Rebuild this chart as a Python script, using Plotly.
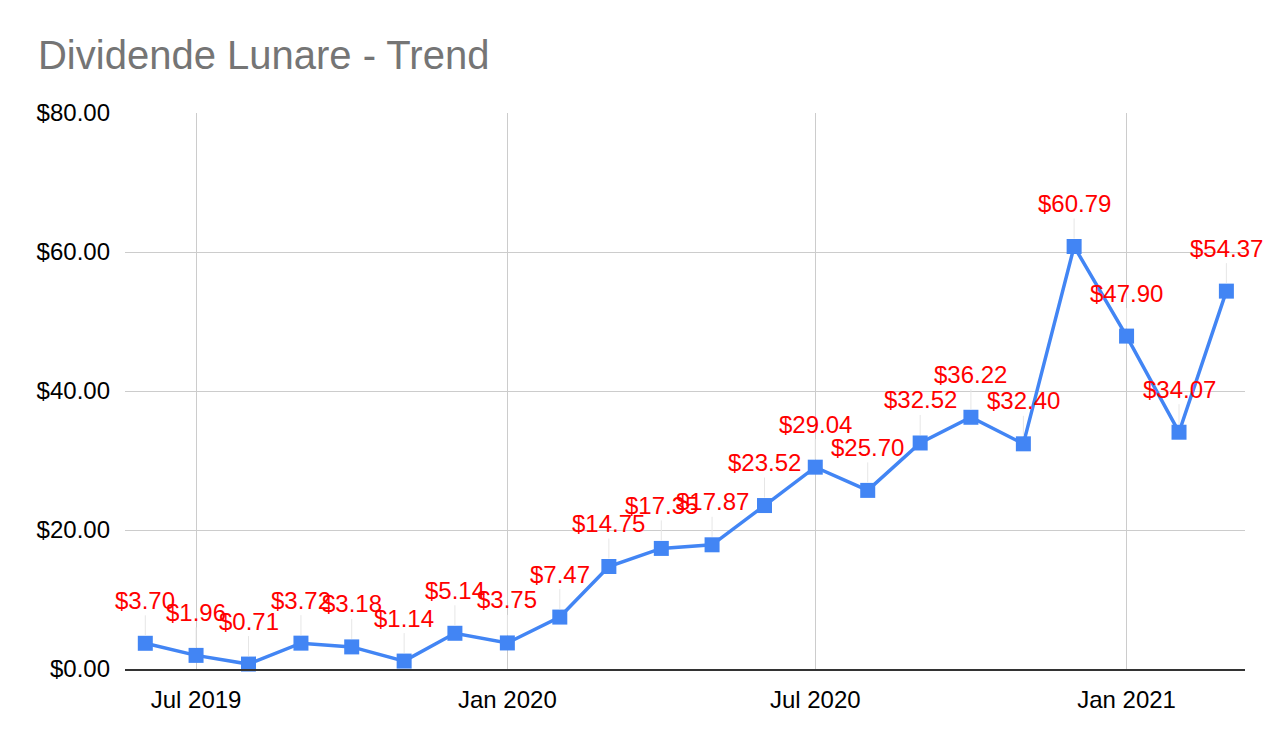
import plotly.graph_objects as go

# monthly dividend data
months = ['2019-06-01', '2019-07-01', '2019-08-01', '2019-09-01', '2019-10-01', '2019-11-01',
          '2019-12-01', '2020-01-01', '2020-02-01', '2020-03-01', '2020-04-01', '2020-05-01',
          '2020-06-01', '2020-07-01', '2020-08-01', '2020-09-01', '2020-10-01', '2020-11-01',
          '2020-12-01', '2021-01-01', '2021-02-01', '2021-03-01']
dividends = [3.70, 1.96, 0.71, 3.72, 3.18, 1.14,
             5.14, 3.75, 7.47, 14.75, 17.35, 17.87,
             23.52, 29.04, 25.70, 32.52, 36.22, 32.40,
             60.79, 47.90, 34.07, 54.37]
y_ticks = [0, 20, 40, 60, 80]

font = 'Liberation Sans, Arial, sans-serif'

fig = go.Figure(go.Scatter(
    x=months, y=dividends, mode='lines+markers',
    line=dict(color='#4285F4', width=3.5),
    marker=dict(symbol='square', size=15, color='#4285F4'),
    cliponaxis=False,
))

# value labels with thin leader lines
for m, v in zip(months, dividends):
    fig.add_annotation(
        x=m, y=v, text='$%.2f' % v,
        showarrow=True, arrowhead=0, arrowwidth=1, arrowcolor='#e6e6e6',
        ax=0, ay=-43, standoff=8,
        font=dict(family=font, size=24, color='#ff0000'),
    )

fig.update_layout(
    width=1282, height=742,
    title=dict(text='Dividende Lunare - Trend', x=0.0234, xanchor='left', y=0.937, yanchor='middle',
               font=dict(family=font, size=40, color='#757575')),
    margin=dict(l=117, r=45, t=105, b=81),
    plot_bgcolor='white', paper_bgcolor='white',
    showlegend=False,
    font=dict(family=font, size=24, color='#000000'),
)
fig.update_xaxes(
    type='date', range=['2019-05-20', '2021-03-12'],
    tick0='2019-07-01', dtick='M6', tickformat='%b %Y',
    showgrid=True, gridcolor='#cccccc', gridwidth=1,
    showline=True, linecolor='#333333', linewidth=2,
    ticks='', ticklabelstandoff=8,
)
fig.update_yaxes(
    range=[0, 80], tickvals=y_ticks, tickformat='$.2f',
    showgrid=True, gridcolor='#cccccc', gridwidth=1,
    zeroline=False, ticks='', ticklabelstandoff=14,
)

fig.write_html('out.html')
